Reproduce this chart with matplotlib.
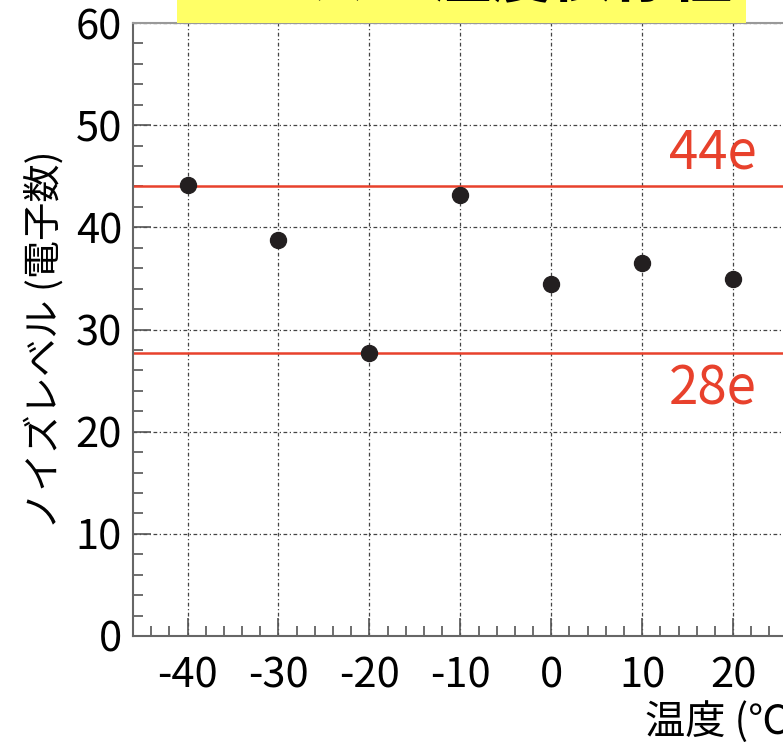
import numpy as np
import matplotlib
matplotlib.use("Agg")
import matplotlib.pyplot as plt
from matplotlib.ticker import MultipleLocator

plt.rcParams['font.family'] = ['Noto Sans CJK JP', 'DejaVu Sans']
plt.rcParams['axes.unicode_minus'] = False

# data
temps = [-40, -30, -20, -10, 0, 10, 20]
noise = [44.1, 38.8, 27.7, 43.2, 34.5, 36.5, 34.9]
upper_level = 44.0
lower_level = 27.7
upper_label = "44e"
lower_label = "28e"
title_text = "ノイズの温度依存性"
xlabel_text = "温度 (℃)"
ylabel_text = "ノイズレベル (電子数)"

red = "#e8412c"

fig = plt.figure(figsize=(7.83, 7.42), dpi=100)
ax = fig.add_axes([133/783, 106/742, 691/783, 613/742])

ax.set_xlim(-46, 30)
ax.set_ylim(0, 60)

ax.grid(True, color="#444444", linestyle=(0, (3, 2, 1, 2)), linewidth=0.9)
ax.set_axisbelow(True)

ax.axhline(upper_level, color=red, lw=1.8, zorder=2)
ax.axhline(lower_level, color=red, lw=1.8, zorder=2)

ax.plot(temps, noise, 'o', color="#231f20", markersize=11.5, zorder=3)

ax.text(22.6, 47.3, upper_label, color=red, fontsize=38, ha='right', va='center')
ax.text(22.6, 24.2, lower_label, color=red, fontsize=38, ha='right', va='center')

ax.xaxis.set_major_locator(MultipleLocator(10))
ax.xaxis.set_minor_locator(MultipleLocator(2))
ax.yaxis.set_major_locator(MultipleLocator(10))
ax.yaxis.set_minor_locator(MultipleLocator(2))
ax.tick_params(which='both', direction='in', color="#555555", width=1.2)
ax.tick_params(which='major', length=13, labelsize=30, pad=14)
ax.tick_params(which='minor', length=7)
ax.tick_params(axis='y', which='major', pad=8)

for s in ax.spines.values():
    s.set_color("#666666")
    s.set_linewidth(1.5)
ax.spines['top'].set_color("#999999")

fig.text(645/783, 20/742, xlabel_text, fontsize=29, ha='left', va='center')
fig.text(45/783, 0.542, ylabel_text, fontsize=27.5, rotation=90, ha='center', va='center')

fig.text(461.5/783, 1.0 - 10/742, title_text, fontsize=43.5, fontweight='bold', ha='center', va='bottom',
         bbox=dict(boxstyle='square,pad=0.22', facecolor='#ffff66', edgecolor='none'))

fig.savefig("out.png", dpi=100)
